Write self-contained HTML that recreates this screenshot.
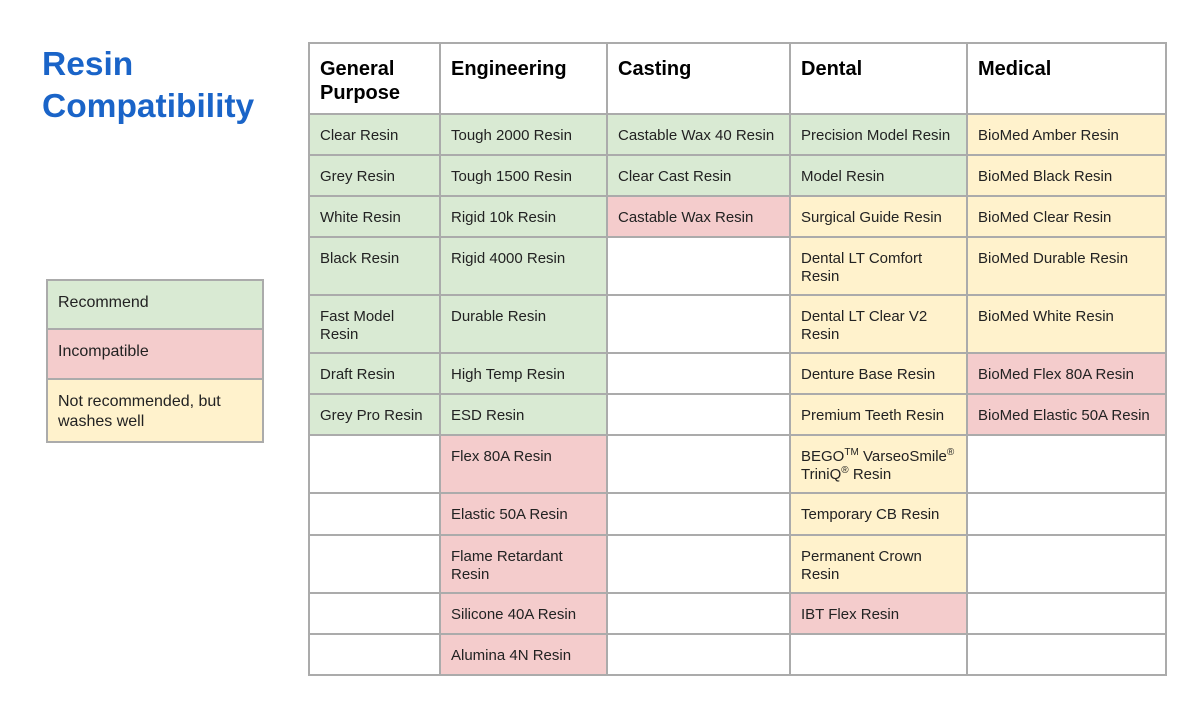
<!DOCTYPE html>
<html><head><meta charset="utf-8"><style>
body{margin:0;width:1200px;height:720px;background:#fff;position:relative;overflow:hidden;font-family:"Liberation Sans",Arial,sans-serif;}
.title{position:absolute;left:42px;top:44px;font-size:33.5px;font-weight:bold;color:#1a64c8;line-height:42px;}
.grid{position:absolute;left:308px;top:42px;background:#ababab;padding:2px;display:grid;gap:2px;
grid-template-columns:129px 165px 181px 175px 197px;
grid-template-rows:69px 39px 39px 39px 56px 56px 39px 39px 56px 40px 56px 39px 39px;}
.grid div{background:#fff;font-size:15px;color:#222;padding:12px 10px 0 10px;line-height:18px;}
.grid .h{font-size:20px;font-weight:bold;color:#000;line-height:24px;padding-top:13px;}
.g{background:#d9ead3!important}.r{background:#f4cccc!important}.y{background:#fff2cc!important}
sup{font-size:10px;line-height:0}
.leg{position:absolute;left:46px;top:279px;width:214px;background:#ababab;padding:2px;display:grid;gap:2px;grid-template-rows:47px 48px 61px;}
.leg div{font-size:16px;color:#222;padding:12px 10px 0 10px;line-height:20px;}
</style></head><body>
<div class="title">Resin<br>Compatibility</div>
<div class="leg"><div class="g">Recommend</div><div class="r">Incompatible</div><div class="y">Not recommended, but washes well</div></div>
<div class="grid">
<div class="h">General Purpose</div><div class="h">Engineering</div><div class="h">Casting</div><div class="h">Dental</div><div class="h">Medical</div>
<div class="g">Clear Resin</div><div class="g">Tough 2000 Resin</div><div class="g">Castable Wax 40 Resin</div><div class="g">Precision Model Resin</div><div class="y">BioMed Amber Resin</div>
<div class="g">Grey Resin</div><div class="g">Tough 1500 Resin</div><div class="g">Clear Cast Resin</div><div class="g">Model Resin</div><div class="y">BioMed Black Resin</div>
<div class="g">White Resin</div><div class="g">Rigid 10k Resin</div><div class="r">Castable Wax Resin</div><div class="y">Surgical Guide Resin</div><div class="y">BioMed Clear Resin</div>
<div class="g">Black Resin</div><div class="g">Rigid 4000 Resin</div><div></div><div class="y">Dental LT Comfort Resin</div><div class="y">BioMed Durable Resin</div>
<div class="g">Fast Model Resin</div><div class="g">Durable Resin</div><div></div><div class="y">Dental LT Clear V2 Resin</div><div class="y">BioMed White Resin</div>
<div class="g">Draft Resin</div><div class="g">High Temp Resin</div><div></div><div class="y">Denture Base Resin</div><div class="r">BioMed Flex 80A Resin</div>
<div class="g">Grey Pro Resin</div><div class="g">ESD Resin</div><div></div><div class="y">Premium Teeth Resin</div><div class="r">BioMed Elastic 50A Resin</div>
<div></div><div class="r">Flex 80A Resin</div><div></div><div class="y">BEGO<sup>TM</sup> VarseoSmile<sup>®</sup> TriniQ<sup>®</sup> Resin</div><div></div>
<div></div><div class="r">Elastic 50A Resin</div><div></div><div class="y">Temporary CB Resin</div><div></div>
<div></div><div class="r">Flame Retardant Resin</div><div></div><div class="y">Permanent Crown Resin</div><div></div>
<div></div><div class="r">Silicone 40A Resin</div><div></div><div class="r">IBT Flex Resin</div><div></div>
<div></div><div class="r">Alumina 4N Resin</div><div></div><div></div><div></div>
</div>
</body></html>
